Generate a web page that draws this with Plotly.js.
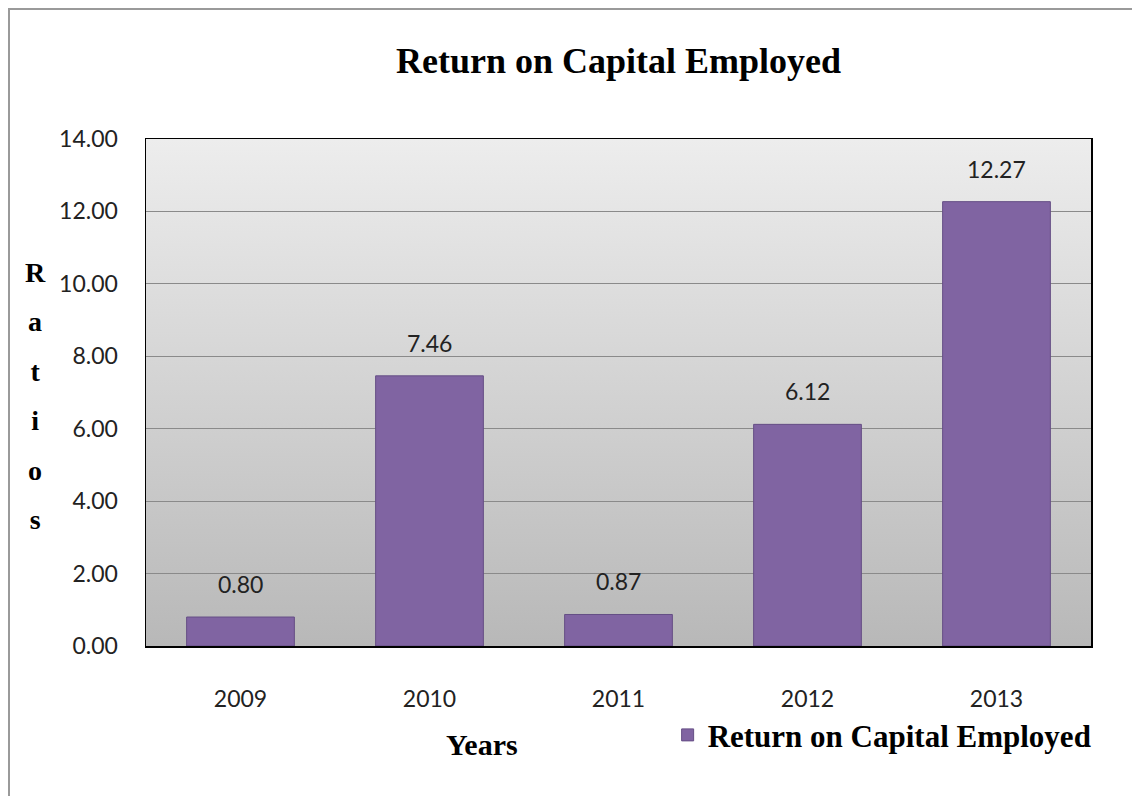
<!DOCTYPE html>
<html>
<head>
<meta charset="utf-8">
<script src="https://cdn.plot.ly/plotly-3.0.1.min.js"></script>
<style>
html,body{margin:0;padding:0;background:#fff;}
#wrap{position:relative;width:1132px;height:796px;overflow:hidden;}
#frame{position:absolute;left:8px;top:8px;width:1200px;height:900px;border-left:2px solid #9a9a9a;border-top:2px solid #9a9a9a;pointer-events:none;}
#chart{position:absolute;left:0;top:0;width:1132px;height:796px;}
</style>
</head>
<body>
<div id="wrap"><div id="chart"></div><div id="frame"></div></div>
<script>
const chartTitle = "Return on Capital Employed";
const seriesName = "Return on Capital Employed";
const years = ["2009", "2010", "2011", "2012", "2013"];
const ratios = [0.80, 7.46, 0.87, 6.12, 12.27];
const yTicks = [0, 2, 4, 6, 8, 10, 12, 14];
const xTitle = "Years";
const yTitle = "Ratios";

const serif = "Liberation Serif, Times New Roman, serif";
const sans = "Lato, Open Sans, sans-serif";

const gradSvg = '<svg xmlns="http://www.w3.org/2000/svg" width="100" height="100" preserveAspectRatio="none"><defs><linearGradient id="g" x1="0" y1="0" x2="0" y2="1"><stop offset="0" stop-color="#ededed"/><stop offset="1" stop-color="#b8b8b8"/></linearGradient></defs><rect width="100" height="100" fill="url(#g)"/></svg>';

const labelAnns = years.map((yr, i) => ({
  x: i, y: ratios[i], xref: "x", yref: "y",
  text: ratios[i].toFixed(2), showarrow: false,
  yanchor: "middle", yshift: 33,
  font: {family: sans, size: 23, color: "#222"}
}));

const yTitleHtml = yTitle.split("").map(c => '<span style="font-size:28px">' + c + '</span>').join("<br>");

const data = [{
  type: "bar", x: years, y: ratios, name: seriesName,
  marker: {color: "#8064A2", line: {color: "#654e85", width: 1}},
  width: 0.57, showlegend: true, hoverinfo: "none"
}];

const layout = {
  width: 1132, height: 796,
  margin: {l: 146, r: 41, t: 139, b: 150},
  paper_bgcolor: "#ffffff", plot_bgcolor: "rgba(0,0,0,0)",
  title: {text: chartTitle, font: {family: serif, size: 36, color: "#000", weight: "bold"},
          x: 0.5, xref: "paper", xanchor: "center", y: 0.924, yanchor: "middle"},
  xaxis: {type: "category", range: [-0.5, 4.5], autorange: false, showgrid: false, showline: true,
          linecolor: "#000", linewidth: 1.5, mirror: true, ticks: "", ticklabelstandoff: 32,
          tickfont: {family: sans, size: 23, color: "#222"}, zeroline: false},
  yaxis: {range: [0, 14], autorange: false, tickvals: yTicks, tickformat: ".2f", showgrid: true, gridcolor: "#8a8a8a",
          gridwidth: 1, showline: true, linecolor: "#000", linewidth: 1.5, mirror: true,
          ticks: "", ticklabelstandoff: 22, zeroline: false,
          tickfont: {family: sans, size: 23, color: "#222"}},
  legend: {x: 0.552, y: -0.176, xanchor: "left", yanchor: "middle", bgcolor: "rgba(0,0,0,0)",
           font: {family: serif, size: 31, color: "#000", weight: "bold"}},
  images: [{source: "data:image/svg+xml;charset=utf-8," + encodeURIComponent(gradSvg),
            xref: "paper", yref: "paper", x: 0, y: 1, sizex: 1, sizey: 1,
            sizing: "stretch", layer: "below", xanchor: "left", yanchor: "top"}],
  annotations: labelAnns.concat([
    {text: "<b>" + xTitle + "</b>", xref: "paper", yref: "paper", x: (482 - 146) / 945, y: (646 - 745) / 507,
     xanchor: "center", yanchor: "middle", showarrow: false, font: {family: serif, size: 30, color: "#000"}},
    {text: "<b>" + yTitleHtml + "</b>", xref: "paper", yref: "paper", x: (35 - 146) / 945, y: (646 - 396) / 507,
     xanchor: "center", yanchor: "middle", align: "center", showarrow: false,
     font: {family: serif, size: 38, color: "#000"}}
  ])
};

Plotly.newPlot("chart", data, layout, {displayModeBar: false, staticPlot: true});
</script>
</body>
</html>
